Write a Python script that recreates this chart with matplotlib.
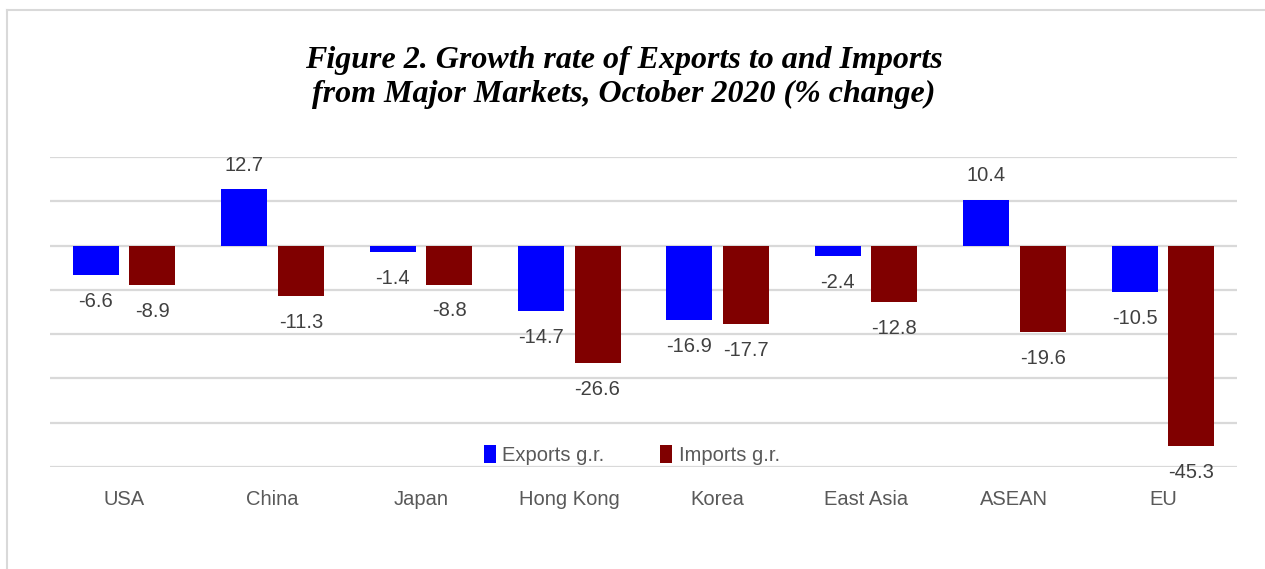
import matplotlib
matplotlib.use("Agg")
import matplotlib.pyplot as plt
import matplotlib.font_manager as fm
import numpy as np

# データ
markets = ["USA", "China", "Japan", "Hong Kong", "Korea", "East Asia", "ASEAN", "EU"]
exports_gr = [-6.6, 12.7, -1.4, -14.7, -16.9, -2.4, 10.4, -10.5]
imports_gr = [-8.9, -11.3, -8.8, -26.6, -17.7, -12.8, -19.6, -45.3]

names = {f.name for f in fm.fontManager.ttflist}
narrow = "Liberation Sans Narrow" if "Liberation Sans Narrow" in names else "Liberation Sans"
lab_size = 16.5 if narrow == "Liberation Sans Narrow" else 14.5
plt.rcParams['font.family'] = [narrow, 'DejaVu Sans']

fig = plt.figure(figsize=(12.65, 5.69), dpi=100)
ax = fig.add_axes([50 / 1265, 1 - 467 / 569, 1187 / 1265, 310 / 569])

x = np.arange(len(markets))
w = 0.31
off = 0.19
b1 = ax.bar(x - off, exports_gr, w, color="#0000FF", label="Exports g.r.", zorder=3)
b2 = ax.bar(x + off, imports_gr, w, color="#800000", label="Imports g.r.", zorder=3)

for bars, vals in ((b1, exports_gr), (b2, imports_gr)):
    for r, v in zip(bars, vals):
        cx = r.get_x() + r.get_width() / 2
        dy = 17 if v >= 0 else -19
        ax.annotate(f"{v:.1f}", (cx, v), xytext=(0, dy), textcoords="offset points",
                    ha="center", va="center", fontsize=lab_size, color="#404040")

ax.set_ylim(-50, 20)
ax.set_xlim(-0.5, len(markets) - 0.5)
ax.set_yticks(np.arange(-50, 21, 10))
ax.yaxis.grid(True, color="#d9d9d9", linewidth=1.6, zorder=0)
ax.tick_params(axis="y", left=False, labelleft=False)
ax.tick_params(axis="x", bottom=False, pad=13, labelsize=lab_size, labelcolor="#595959")
ax.set_xticks(x)
ax.set_xticklabels(markets)
for s in ax.spines.values():
    s.set_visible(False)

leg = ax.legend(loc="center", bbox_to_anchor=(0.49, 0.038), ncol=2, frameon=False,
                fontsize=lab_size, handlelength=0.6, handleheight=1.0, handletextpad=0.3,
                columnspacing=2.8, labelcolor="#595959")

fig.text(0.493, 0.864, "Figure 2. Growth rate of Exports to and Imports\nfrom Major Markets, October 2020 (% change)",
         ha="center", va="center", fontsize=23, fontweight="bold", fontstyle="italic",
         family=["Liberation Serif", "DejaVu Serif"], linespacing=1.2)

# 外枠
fig.add_artist(plt.Line2D([7 / 1265, 7 / 1265], [0, 1 - 10 / 569], color="#d9d9d9", linewidth=1.5))
fig.add_artist(plt.Line2D([7 / 1265, 1], [1 - 10 / 569, 1 - 10 / 569], color="#d9d9d9", linewidth=1.5))

fig.savefig("out.png", dpi=100)
